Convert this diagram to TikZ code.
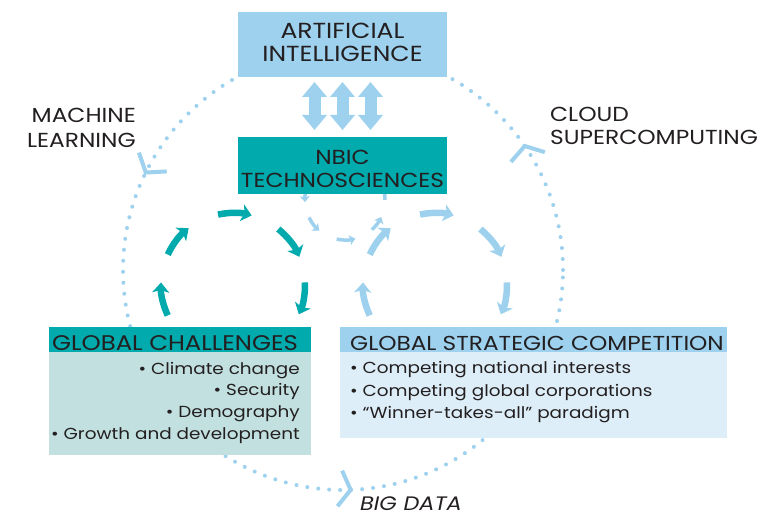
\documentclass[tikz,border=0pt]{standalone}
\usepackage{fontspec}
\setmainfont{Poppins}[FakeStretch=1.15]
\usetikzlibrary{arrows.meta,calc}
\definecolor{lblue}{HTML}{9DD1EE}
\definecolor{myteal}{HTML}{00AAAD}
\definecolor{tealbody}{HTML}{C2E0E0}
\definecolor{bluebody}{HTML}{DDEEF8}
\definecolor{ink}{HTML}{231F20}
\begin{document}
\begin{tikzpicture}[x=1pt,y=-1pt,
  boxstyle/.style={inner sep=0pt, outer sep=0pt, anchor=north west},
  bigfont/.style={font=\fontsize{20.3}{24}\selectfont, inner sep=0pt, text=ink},
  aifont/.style={font=\fontsize{21.8}{24}\selectfont, inner sep=0pt, text=ink},
  headfont/.style={font=\fontsize{20.2}{23}\selectfont, inner sep=0pt, text=ink},
  bodyfont/.style={font=\fontsize{16}{20}\selectfont, inner sep=0pt, text=ink},
  dots/.style={draw=lblue, line width=4pt, line cap=round, dash pattern=on 0pt off 11pt},
  chev/.style={draw=lblue, line width=4pt},
  tarrow/.style={draw=myteal, line width=6.5pt, -{Stealth[length=10pt,width=17pt,inset=2.5pt]}},
  barrow/.style={draw=lblue, line width=6.5pt, -{Stealth[length=10pt,width=17pt,inset=2.5pt]}},
  sarrow/.style={draw=lblue, line width=3.5pt, -{Stealth[length=6pt,width=10pt,inset=1.5pt]}},
  dblarrow/.style={draw=lblue, line width=12pt, {Triangle[width=24pt,length=15pt]}-{Triangle[width=24pt,length=15pt]}},
]
\useasboundingbox (0,0) rectangle (778,518);
\fill[white] (0,0) rectangle (778,518);

% big dotted circle
\coordinate (O) at (343,270);
\draw[dots] (O) circle[radius=220pt];
\coordinate (v1) at ($(O)+(153.7:220pt)$);
\coordinate (v2) at ($(O)+(34.3:220pt)$);
\coordinate (v3) at ($(O)+(-88:220pt)$);
\draw[chev] ($(v1)+(109:21pt)$) -- (v1) -- ($(v1)+(3:21pt)$);
\draw[chev] ($(v2)+(229:21pt)$) -- (v2) -- ($(v2)+(343:21pt)$);
\draw[chev] ($(v3)+(114:21pt)$) -- (v3) -- ($(v3)+(231:21pt)$);

% teal cycle
\coordinate (T) at (233,285);
\foreach \a/\b in {205/178,155/128,102/75,51/23,2/-24}
  \draw[tarrow] (T) ++(\a:72pt) arc[start angle=\a, end angle=\b, radius=72pt];
% light blue cycle
\coordinate (B) at (435,285);
\foreach \a/\b in {205/178,155/128,102/75,51/23,2/-24}
  \draw[barrow] (B) ++(\a:72pt) arc[start angle=\a, end angle=\b, radius=72pt];
% small cycle
\coordinate (S) at (345,200);
\foreach \a/\b in {150/183,206/230,258/285,312/335,0/28}
  \draw[sarrow] (S) ++(\a:40pt) arc[start angle=\a, end angle=\b, radius=40pt];

% boxes
\node[boxstyle, fill=lblue, minimum width=209pt, minimum height=65pt] (ai) at (238,12) {};
\node[boxstyle, fill=myteal, minimum width=209pt, minimum height=57pt] (nbic) at (238,137) {};
\node[boxstyle, fill=myteal, minimum width=262pt, minimum height=25pt] (gch) at (49,327) {};
\node[boxstyle, fill=tealbody, minimum width=262pt, minimum height=103pt] (gcb) at (49,352) {};
\node[boxstyle, fill=lblue, minimum width=387pt, minimum height=25pt] (gsh) at (340,327) {};
\node[boxstyle, fill=bluebody, minimum width=387pt, minimum height=86pt] (gsb) at (340,352) {};

% double arrows
\foreach \dx in {-28,0,28}
  \draw[dblarrow] ($(ai.south)+(\dx,5)$) -- ($(nbic.north)+(\dx,-7)$);

% texts
\node[aifont, anchor=base] (ai1) at (342.5,39) {ARTIFICIAL};
\node[aifont, anchor=base] (ai2) at (342.5,62) {INTELLIGENCE};
\node[bigfont, anchor=base] (nb1) at (342.5,165) {NBIC};
\node[bigfont, anchor=base] (nb2) at (342.5,188) {TECHNOSCIENCES};
\node[bigfont, anchor=base east] (ml1) at (136,123) {MACHINE};
\node[bigfont, anchor=base east] (ml2) at (136,148) {LEARNING};
\node[bigfont, anchor=base west] (cl1) at (550,122) {CLOUD};
\node[bigfont, anchor=base west] (cl2) at (550,145) {SUPERCOMPUTING};
\node[inner sep=0pt, text=ink, anchor=base west, font=\fontsize{19.5}{24}\selectfont\itshape] (bd) at (360,510) {BIG DATA};

\node[headfont, anchor=base west, font=\fontsize{21.2}{23}\selectfont] (gct) at (52,350) {GLOBAL CHALLENGES};
\node[headfont, anchor=base west] (gst) at (350,350) {GLOBAL STRATEGIC COMPETITION};

\node[bodyfont, anchor=base east] (gc1) at (300,374) {• Climate change};
\node[bodyfont, anchor=base east] (gc2) at (300,395.5) {• Security};
\node[bodyfont, anchor=base east] (gc3) at (300,417) {• Demography};
\node[bodyfont, anchor=base east] (gc4) at (300,439) {• Growth and development};

\node[bodyfont, anchor=base west] (gs1) at (350,373) {• Competing national interests};
\node[bodyfont, anchor=base west] (gs2) at (350,396) {• Competing global corporations};
\node[bodyfont, anchor=base west] (gs3) at (350,418) {• “Winner-takes-all” paradigm};
\end{tikzpicture}
\end{document}
